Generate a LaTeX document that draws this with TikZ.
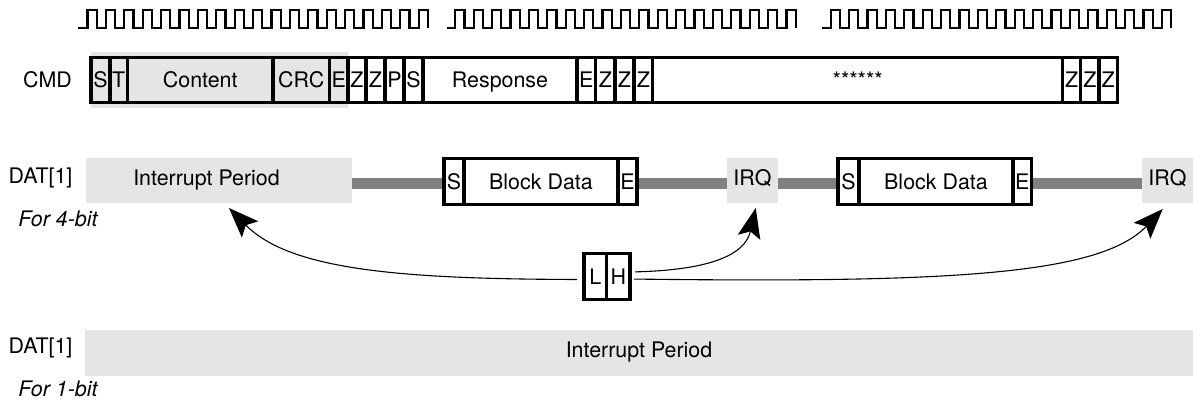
\documentclass[tikz,border=0pt]{standalone}
\usepackage{fontspec}
\setmainfont{TeX Gyre Heros}
\usetikzlibrary{arrows.meta}
\definecolor{panel}{HTML}{E5E5E5}
\definecolor{busline}{HTML}{808080}
\tikzset{
  base font/.style={font=\fontsize{21.4}{25}\selectfont, inner sep=0pt, outer sep=0pt},
  cellbox/.style={base font, draw=black, line width=3.2pt, minimum height=45pt, text height=15pt, text depth=0pt},
  databox/.style={cellbox, minimum height=46pt},
  smallbox/.style={cellbox, minimum height=46pt},
  panelbox/.style={base font, fill=panel, text height=15pt, text depth=6pt},
  plainlabel/.style={base font, anchor=base},
  clockline/.style={line width=2.2pt, line join=miter},
  busbar/.style={draw=busline, line width=11pt},
  curvearrow/.style={line width=1.1pt, -{Stealth[length=30pt,width=23pt,inset=6pt]}},
}
\newcommand{\clockwave}[2]{%
  \draw[clockline] (#1,28) -- (#2,28)
    foreach \i in {0,...,17} { -- ++(0,-18) -- ++(9.2,0) -- ++(0,18) -- ++(9.2,0) }
    -- ++(0,-18) -- ++(9.2,0) -- ++(0,18);%
}
\newcommand{\cmdcell}[4]{\node[cellbox, minimum width={#3-#2}] (#1) at ({(#2+#3)/2},80) {#4};}
\newcommand{\datcell}[4]{\node[databox, minimum width={#3-#2}] (#1) at ({(#2+#3)/2},181.5) {#4};}
\newcommand{\lhcell}[4]{\node[smallbox, minimum width={#3-#2}] (#1) at ({(#2+#3)/2},276.5) {#4};}
\begin{document}
\begin{tikzpicture}[x=1pt,y=-1pt]
\useasboundingbox (0,0) rectangle (1193,400);
% clocks
\clockwave{78.3}{87.5}
\clockwave{446.7}{455.2}
\clockwave{821.7}{830.7}
% CMD row
\node[plainlabel] (cmdlabel) at (47.5,87) {CMD};
\node[fill=panel, inner sep=0pt, minimum width=257pt, minimum height=56pt] (cmdpanel) at (219.5,80) {};
\cmdcell{c1}{91}{110}{S}
\cmdcell{c2}{110}{127.5}{T}
\cmdcell{c3}{127.5}{273}{Content}
\cmdcell{c4}{273}{329.5}{CRC}
\cmdcell{c5}{329.5}{348}{E}
\cmdcell{c6}{348}{366}{Z}
\cmdcell{c7}{366}{385}{Z}
\cmdcell{c8}{385}{404}{P}
\cmdcell{c9}{404}{423}{S}
\cmdcell{c10}{423}{577}{Response}
\cmdcell{c11}{577}{595.7}{E}
\cmdcell{c12}{595.7}{615}{Z}
\cmdcell{c13}{615}{634}{Z}
\cmdcell{c14}{634}{652.7}{Z}
\cmdcell{c15}{652.7}{1062.7}{******}
\cmdcell{c16}{1062.7}{1080.7}{Z}
\cmdcell{c17}{1080.7}{1099}{Z}
\cmdcell{c18}{1099}{1117.3}{Z}
% DAT 4-bit row
\node[plainlabel] (dat4) at (40.5,183) {DAT[1]};
\node[plainlabel, font=\fontsize{21.4}{25}\selectfont\itshape] (for4) at (58,226) {For 4-bit};
\node[panelbox, minimum width=266pt, minimum height=45pt] (intp) at (219,180.5) {};
\node[plainlabel] (intptext) at (206.5,185) {Interrupt Period};
\node[panelbox, minimum width=51pt, minimum height=45pt] (irqa) at (752.5,180.5) {IRQ};
\node[panelbox, minimum width=51pt, minimum height=45pt] (irqb) at (1167.5,180.5) {IRQ};
\coordinate (busy) at (0,183.5);
\datcell{sa}{444}{464}{S}
\datcell{ba}{464}{618}{Block Data}
\datcell{ea}{618}{637}{E}
\datcell{sb}{838}{859}{S}
\datcell{bb}{859}{1013}{Block Data}
\datcell{eb}{1013}{1031.5}{E}
\draw[busbar] (intp.east |- busy) -- ([xshift=-1.6pt]sa.west |- busy);
\draw[busbar] ([xshift=1.6pt]ea.east |- busy) -- (irqa.west |- busy);
\draw[busbar] (irqa.east |- busy) -- ([xshift=-1.6pt]sb.west |- busy);
\draw[busbar] ([xshift=1.6pt]eb.east |- busy) -- (irqb.west |- busy);
% L H
\lhcell{L}{584}{606.8}{L}
\lhcell{H}{606.8}{630}{H}
\draw[curvearrow, shorten <=7pt] ([yshift=-3pt]L.west) .. controls (400,279) and (290,270) .. ([shift={(10,5)}]intp.south);
\draw[curvearrow, shorten <=5pt] ([yshift=4.5pt]H.east) .. controls (710,270) and (745,255) .. ([shift={(3.2,5)}]irqa.south);
\draw[curvearrow, shorten <=4pt] ([yshift=-2.5pt]H.east) .. controls (950,283) and (1100,275) .. ([shift={(-4.8,6)}]irqb.south);
% DAT 1-bit row
\node[plainlabel] (dat1) at (40.5,353) {DAT[1]};
\node[plainlabel, font=\fontsize{21.4}{25}\selectfont\itshape] (for1) at (58,396) {For 1-bit};
\node[panelbox, minimum width=1108pt, minimum height=46pt] (intq) at (639,353) {Interrupt Period};
\end{tikzpicture}
\end{document}
